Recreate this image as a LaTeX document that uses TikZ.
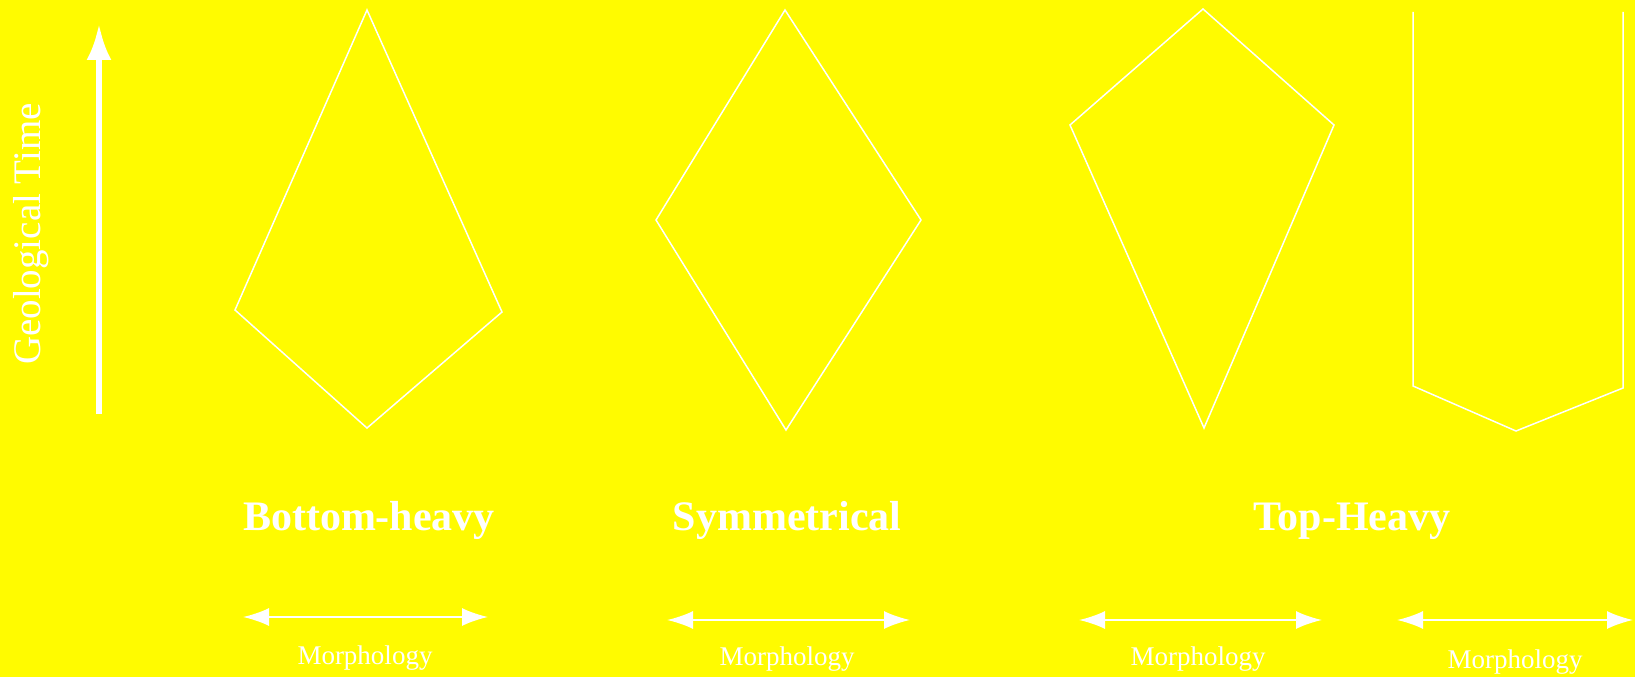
\documentclass[tikz,border=0pt]{standalone}
\usepackage{fontspec}
\setmainfont{Liberation Serif}
\usetikzlibrary{arrows.meta}
\definecolor{bgyellow}{RGB}{255,251,0}
\tikzset{
  shapeline/.style={draw=white, line width=1.5pt, line join=miter},
  morpharrow/.style={draw=white, line width=2pt, {Latex[length=26pt,width=18pt]}-{Latex[length=26pt,width=18pt]}},
  title/.style={text=white, font=\bfseries\fontsize{42}{45}\selectfont, anchor=base, inner sep=0pt},
  morph/.style={text=white, font=\fontsize{27}{30}\selectfont, anchor=base, inner sep=0pt},
}
\begin{document}
\begin{tikzpicture}[x=1pt, y=-1pt]
\fill[bgyellow] (0,0) rectangle (1635,677);
\useasboundingbox (0,0) rectangle (1635,677);

% time axis
\coordinate (tb) at (99,414);
\coordinate (tt) at (99,24);
\draw[white, line width=6pt, -{Latex[length=36pt,width=25pt]}] (tb) -- (tt);
\node[text=white, rotate=90, font=\fontsize{39}{42}\selectfont, inner sep=0pt] (gt) at (31,234) {Geological Time};

% bottom-heavy
\coordinate (a1) at (367,10);
\coordinate (a2) at (502,312);
\coordinate (a3) at (367,428);
\coordinate (a4) at (235,310);
\draw[shapeline] (a1) -- (a2) -- (a3) -- (a4) -- cycle;

% symmetrical
\coordinate (b1) at (785,10);
\coordinate (b2) at (921,220);
\coordinate (b3) at (786,430);
\coordinate (b4) at (656,220);
\draw[shapeline] (b1) -- (b2) -- (b3) -- (b4) -- cycle;

% top-heavy
\coordinate (c1) at (1203,9);
\coordinate (c2) at (1334,125);
\coordinate (c3) at (1204,428);
\coordinate (c4) at (1070,125);
\draw[shapeline] (c1) -- (c2) -- (c3) -- (c4) -- cycle;

% open shape
\coordinate (d1) at (1413,12);
\coordinate (d2) at (1413,386);
\coordinate (d3) at (1516,431);
\coordinate (d4) at (1623,388);
\coordinate (d5) at (1623,12);
\draw[shapeline] (d1) -- (d2) -- (d3) -- (d4) -- (d5);

% titles
\node[title] (t1) at (369,530) {Bottom-heavy};
\node[title] (t2) at (787,530) {Symmetrical};
\node[title] (t3) at (1352,530) {Top-Heavy};

% morphology arrows
\coordinate (m1l) at (243,617);
\coordinate (m1r) at (488,617);
\coordinate (m2l) at (667,620);
\coordinate (m2r) at (910,620);
\coordinate (m3l) at (1079,620);
\coordinate (m3r) at (1322,620);
\coordinate (m4l) at (1397,620);
\coordinate (m4r) at (1633,620);
\draw[morpharrow] (m1l) -- (m1r);
\draw[morpharrow] (m2l) -- (m2r);
\draw[morpharrow] (m3l) -- (m3r);
\draw[morpharrow] (m4l) -- (m4r);

\node[morph] (l1) at (365,664) {Morphology};
\node[morph] (l2) at (787,665) {Morphology};
\node[morph] (l3) at (1198,665) {Morphology};
\node[morph] (l4) at (1515,668) {Morphology};
\end{tikzpicture}
\end{document}
